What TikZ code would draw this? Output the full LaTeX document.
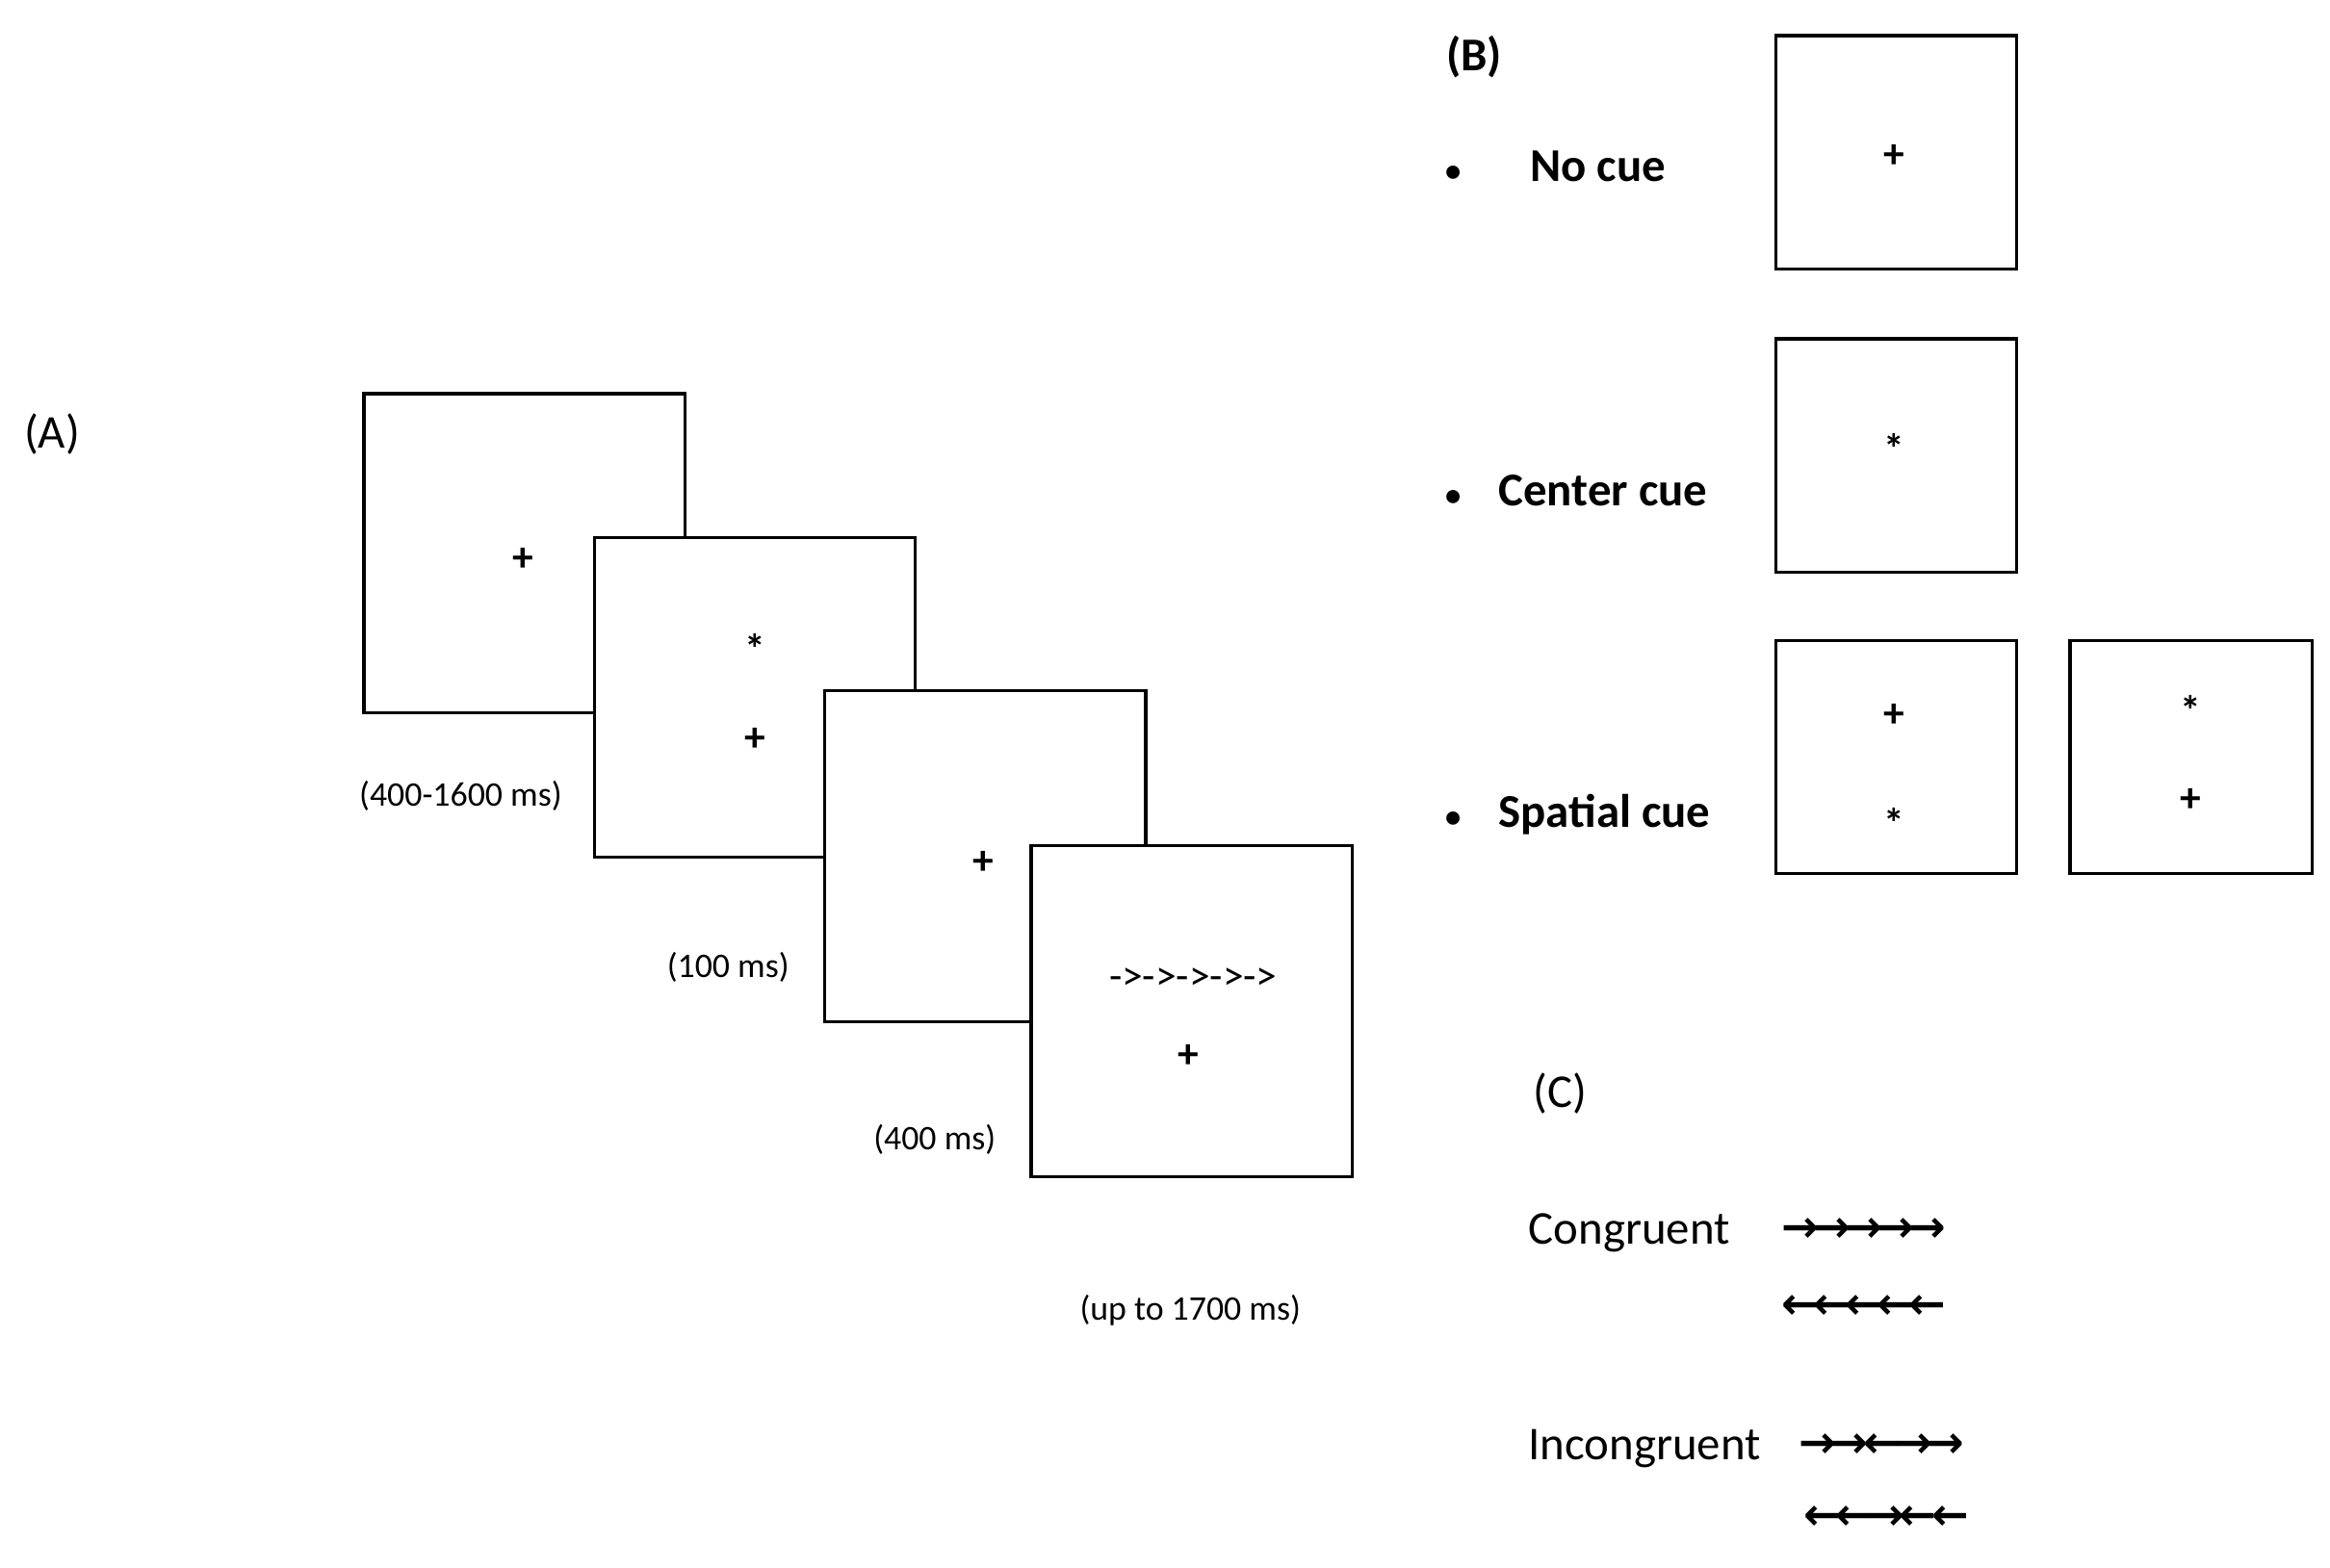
\documentclass[tikz,border=0pt]{standalone}
\usepackage{fontspec}
\setmainfont{Carlito}
\newfontfamily\arrowfont{DejaVu Sans}
\usetikzlibrary{positioning}

\begin{document}
\begin{tikzpicture}[
  x=0.01cm, y=-0.01cm,
  screen/.style={draw, line width=0.6pt, fill=white},
  sym/.style={font=\fontsize{8}{10}\selectfont\bfseries, inner sep=0pt},
  dur/.style={font=\fontsize{6.6}{8}\selectfont, inner sep=0pt},
  head/.style={font=\fontsize{9}{11}\selectfont, inner sep=0pt},
  cue/.style={font=\fontsize{9}{11}\selectfont\bfseries, inner sep=0pt, anchor=west},
  arr/.style={font=\fontsize{8.5}{10}\selectfont\arrowfont\bfseries, inner sep=0pt, anchor=west}
]
\useasboundingbox (0,0) rectangle (1568,1055);

% (A) trial sequence
\node[head] (lblA) at (35,292) {(A)};
\draw[screen] (245,265) rectangle (461,480);
\node[sym] (fix1) at (352,377) {+};
\draw[screen] (400,362) rectangle (616,577);
\node[sym] (cueA) at (508,437) {*};
\node[sym] (fix2) at (508,498) {+};
\draw[screen] (555,465) rectangle (771,688);
\node[sym] (fix3) at (662,581) {+};
\draw[screen] (694,569) rectangle (910,792);
\node[sym, font=\fontsize{8}{10}\selectfont] (target) at (803,659) {->->->->->};
\node[sym] (fix4) at (800,711) {+};
\node[dur] (d1) at (310,536) {(400-1600 ms)};
\node[dur] (d2) at (490,651) {(100 ms)};
\node[dur] (d3) at (629,767) {(400 ms)};
\node[dur] (d4) at (801,882) {(up to 1700 ms)};

% (B) cue conditions
\node[head, font=\fontsize{9}{11}\selectfont\bfseries] (lblB) at (992,38) {(B)};
\node[cue] (nocue) at (972,112) {\fontsize{6}{8}\selectfont•\hspace{2.2em}\fontsize{9}{11}\selectfont No cue};
\node[cue] (center) at (972,330) {\fontsize{6}{8}\selectfont•\hspace{1.2em}\fontsize{9}{11}\selectfont Center cue};
\node[cue] (spatial) at (972,548) {\fontsize{6}{8}\selectfont•\hspace{1.2em}\fontsize{9}{11}\selectfont Spatial cue};
\draw[screen] (1195,24) rectangle (1357,181);
\node[sym] (nfix) at (1275,105) {+};
\draw[screen] (1195,228) rectangle (1357,385);
\node[sym] (cstar) at (1275,302) {*};
\draw[screen] (1195,431) rectangle (1357,588);
\node[sym] (sfix1) at (1275,482) {+};
\node[sym] (sstar1) at (1275,554) {*};
\draw[screen] (1393,431) rectangle (1556,588);
\node[sym] (sstar2) at (1474,478) {*};
\node[sym] (sfix2) at (1474,539) {+};

% (C) flanker types
\node[head] (lblC) at (1050,736) {(C)};
\node[head, anchor=west] (cong) at (1028,830) {Congruent};
\node[arr] (c1) at (1198,828) {→\kern-1pt→\kern-1pt→\kern-1pt→\kern-1pt→};
\node[arr] (c2) at (1198,880) {←\kern-1pt←\kern-1pt←\kern-1pt←\kern-1pt←};
\node[head, anchor=west] (incong) at (1028,975) {Incongruent};
\node[arr] (i1) at (1210,973) {→\kern-1pt→\kern-1pt←\kern-1pt→\kern-1pt→};
\node[arr] (i2) at (1213,1022) {←\kern-1pt←\kern-1pt→\kern-1pt←\kern-1pt←};
\end{tikzpicture}
\end{document}
